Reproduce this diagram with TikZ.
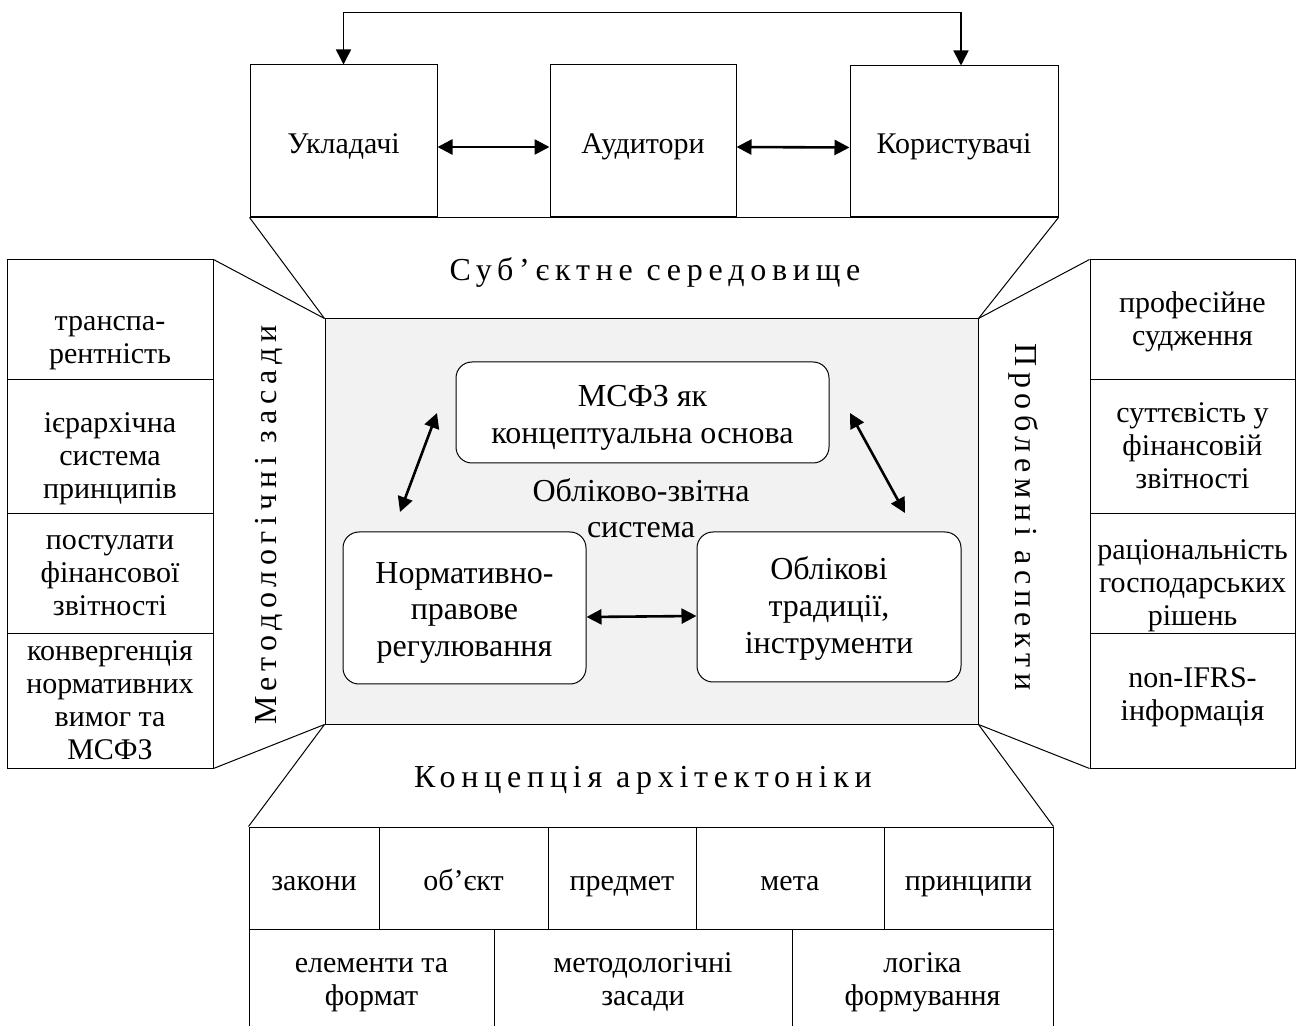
\documentclass[tikz,border=0pt]{standalone}
\usepackage{fontspec}
\setmainfont{Liberation Serif}
\newfontfamily\spacedfont[LetterSpace=18]{Liberation Serif}
\usetikzlibrary{arrows.meta,positioning}
\definecolor{sysgrey}{HTML}{F2F2F2}
\newcommand\hstrut{\rule{0pt}{17.5pt}}
\newcommand\dstrut{\rule[-5pt]{0pt}{5pt}}
\newcommand\tstrut{\rule{0pt}{12pt}}
\newcommand\bstrut{\rule[-4pt]{0pt}{4pt}}

\begin{document}
\begin{tikzpicture}[x=0.5pt, y=-0.5pt, line width=0.5pt,
	box/.style={draw, align=center, inner sep=0pt, font=\fontsize{15}{16.5}\selectfont,
		execute at begin node=\hstrut, execute at end node=\dstrut},
	cell/.style={draw, inner sep=0pt},
	txt/.style={align=center, inner sep=0pt, font=\fontsize{15}{16.5}\selectfont},
	core/.style={draw, fill=white, rounded corners=8pt, inner sep=0pt},
	coretxt/.style={align=center, inner sep=0pt, font=\fontsize{16}{18.3}\selectfont},
	heading/.style={font=\spacedfont\fontsize{16}{18}\selectfont},
	twoway/.style={{Triangle[length=7.5pt,width=7.5pt]}-{Triangle[length=7.5pt,width=7.5pt]}, line width=1.3pt}]
	\clip (0,0) rectangle (1297,1026);

	% subjects
	\node[box, minimum width=93.5pt, minimum height=76pt] (ukl) at (343.5,141) {Укладачі};
	\node[box, minimum width=93pt, minimum height=76pt] (aud) at (643,141) {Аудитори};
	\node[box, minimum width=104pt, minimum height=75.5pt] (kor) at (954,141.5) {Користувачі};
	\draw[{Triangle[length=7.5pt,width=7.5pt]}-{Triangle[length=7.5pt,width=7.5pt]}, line width=0.8pt]
		(ukl.north) -- ++(0,-52) -| ([xshift=3.5pt]kor.north);
	\draw[twoway] ([yshift=-3pt]ukl.east) -- ([yshift=-3pt]aud.west);
	\draw[twoway] ([yshift=-3pt]aud.east) -- ([yshift=-3pt]kor.west);

	% system
	\node[draw, fill=sysgrey, minimum width=326.5pt, minimum height=202.5pt] (sys) at (651.5,521.5) {};
	\draw (ukl.south west) -- (kor.south east);
	\draw (ukl.south west) -- (sys.north west) (kor.south east) -- (sys.north east);
	\node[heading] (subj) at (655,273) {Суб’єктне середовище};

	\node[core, minimum width=186.5pt, minimum height=50.5pt] (msfz) at (642.5,412.5) {};
	\node[core, minimum width=121.5pt, minimum height=76pt] (norm) at (464.5,608) {};
	\node[core, minimum width=132pt, minimum height=75pt] (obl) at (829,607) {};
	\node[coretxt] (msfz t) at (642.5,417) {\tstrut МСФЗ як\\концептуальна основа\bstrut};
	\node[coretxt] (norm t) at (464.5,612) {\tstrut Нормативно-\\правове\\регулювання\bstrut};
	\node[coretxt] (obl t) at (829,608.5) {\tstrut Облікові\\традиції,\\інструменти\bstrut};
	\node[coretxt, font=\fontsize{16}{18}\selectfont] (ozs) at (641,512) {\tstrut Обліково-звітна\\система\bstrut};
	\coordinate (l1) at (437,413);
	\coordinate (l2) at (400,512);
	\coordinate (r1) at (850,413);
	\coordinate (r2) at (905,513);
	\draw[twoway] (l1) -- (l2);
	\draw[twoway] (r1) -- (r2);
	\draw[twoway] ([yshift=-4.5pt]norm.east) -- ([yshift=-4.5pt]obl.west);

	% methodology
	\foreach \n/\yc/\h/\yt/\txt in {1/320/120/339/{транспа-\\рентність}, 2/447/134/458/{ієрархічна\\система\\принципів},
		3/574/120/575/{постулати\\фінансової\\звітності}, 4/701/134/702/{конвергенція\\нормативних\\вимог та\\МСФЗ}}{
		\node[cell, minimum width=103pt, minimum height=\h*0.5pt] (met\n) at (110,\yc) {};
		\node[txt] (met\n t) at (110,\yt) {\tstrut\txt\bstrut};
	}
	\draw (met1.north east) -- (sys.north west) (met4.south east) -- (sys.south west);
	\node[heading, rotate=90] (metz) at (269,525) {Методологічні засади};

	% problems
	\foreach \n/\yc/\h/\yt/\txt in {1/320/120/321/{професійне\\судження}, 2/447/134/448/{суттєвість у\\фінансовій\\звітності},
		3/574/120/584/{раціональність\\господарських\\рішень}, 4/701/134/696/{non-IFRS-\\інформація}}{
		\node[cell, minimum width=102.5pt, minimum height=\h*0.5pt] (pro\n) at (1192.5,\yc) {};
		\node[txt] (pro\n t) at (1192.5,\yt) {\tstrut\txt\bstrut};
	}
	\draw (sys.north east) -- (pro1.north west) (sys.south east) -- (pro4.south west);
	\node[heading, rotate=-90] (prob) at (1024,517) {Проблемні аспекти};

	% architectonics
	\foreach \n/\xa/\xb/\txt in {1/249/379/закони, 2/379/548/об’єкт, 3/548/696/предмет, 4/696/884/мета, 5/884/1053/принципи}
		\node[box, minimum width=(\xb-\xa)*0.5pt, minimum height=51pt] (arch\n) at ({(\xa+\xb)/2},878) {\txt};
	\foreach \n/\xa/\xb/\txt in {1/249/494/{елементи та\\формат}, 2/494/792/{методологічні\\засади}, 3/792/1053/{логіка\\формування}}{
		\node[cell, minimum width=(\xb-\xa)*0.5pt, minimum height=52pt] (low\n) at ({(\xa+\xb)/2},981) {};
		\node[txt] (low\n t) at ({(\xa+\xb)/2},981) {\tstrut\txt\bstrut};
	}
	\draw (sys.south west) -- (arch1.north west) (sys.south east) -- (arch5.north east);
	\node[heading] (konc) at (643,780) {Концепція архітектоніки};
\end{tikzpicture}
\end{document}
